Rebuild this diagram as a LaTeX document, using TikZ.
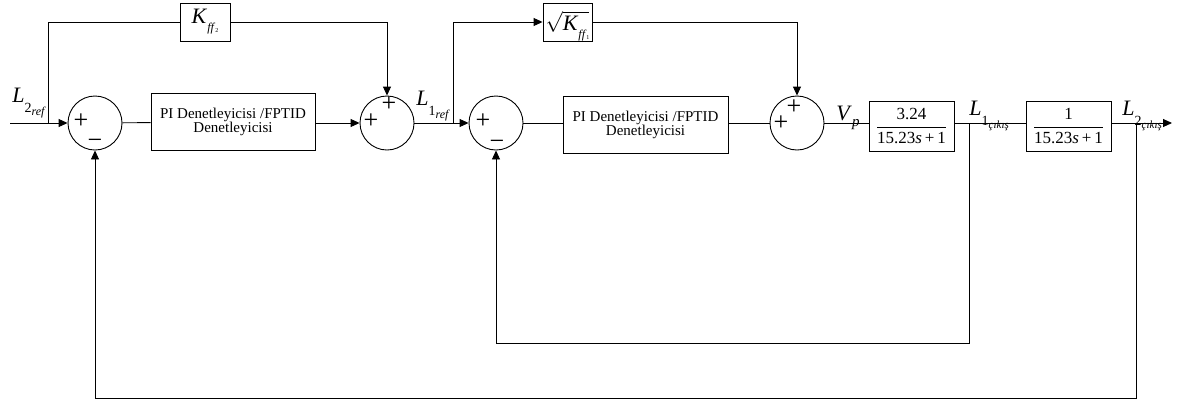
\documentclass[tikz,border=0pt]{standalone}
\usepackage{fontspec}
\setmainfont{Liberation Serif}
\usetikzlibrary{arrows.meta,calc}
\newcommand{\Lsym}[4]{{\fontsize{22}{22}\selectfont\textit{L}}\raisebox{-10pt}{\fontsize{14}{14}\selectfont #1}\raisebox{#3}{\fontsize{#4}{#4}\selectfont\textit{#2}}}
\newcommand{\Kbig}{{\fontsize{22}{22}\selectfont\textit{K}}}
\begin{document}
\begin{tikzpicture}[x=1pt,y=-1pt,
  line width=0.9pt,
  sig/.style={-{Triangle[length=9pt,width=8pt]}},
  blk/.style={draw,rectangle,inner sep=0pt,align=center},
  sumnode/.style={draw,circle,minimum size=54pt,inner sep=0pt},
  sgn/.style={inner sep=0pt,anchor=base,font=\fontsize{26}{26}\selectfont},
  lbl/.style={inner sep=0pt,anchor=base west},
  pitext/.style={font=\fontsize{15}{14}\selectfont},
  frac/.style={font=\fontsize{17}{17}\selectfont}]
\useasboundingbox (0,0) rectangle (1182,405);

% summing junctions
\node[sumnode] (s1) at (95,123) {};
\node[sumnode] (s2) at (387,123) {};
\node[sumnode] (s3) at (496,123) {};
\node[sumnode] (s4) at (797,123) {};

% signs
\node[sgn] (s1p) at (81,128.5) {+};
\node[sgn] (s1m) at (95,148.5) {−};
\node[sgn] (s2p) at (371,128.5) {+};
\node[sgn] (s2t) at (389,111) {+};
\node[sgn] (s3p) at (483,128.5) {+};
\node[sgn] (s3m) at (497,149.5) {−};
\node[sgn] (s4p) at (781,130) {+};
\node[sgn] (s4t) at (794,114) {+};

% blocks
\node[blk,pitext,minimum width=164pt,minimum height=57pt] (pi1) at (233,122) {PI Denetleyicisi /FPTID\\Denetleyicisi};
\node[blk,pitext,minimum width=165pt,minimum height=57pt] (pi2) at (645.5,124.5) {PI Denetleyicisi /FPTID\\Denetleyicisi};
\node[blk,minimum width=50pt,minimum height=38pt] (kff2) at (205,22) {\Kbig\raisebox{-8pt}{\fontsize{12}{12}\selectfont\textit{ff}}\raisebox{-9pt}{\fontsize{6}{6}\selectfont 2}};
\node[blk,minimum width=49pt,minimum height=38pt,inner sep=2pt,font=\fontsize{20}{20}\selectfont] (kff1) at (567.5,22) {$\sqrt{\hbox{\Kbig\smash{\raisebox{-8pt}{\fontsize{12}{12}\selectfont\textit{ff}}\raisebox{-9pt}{\fontsize{6}{6}\selectfont 1}}}}$};
\node[blk,frac,minimum width=85pt,minimum height=50pt] (g1) at (911.5,126) {$\displaystyle\frac{\hbox{\fontsize{17}{17}\selectfont 3.24}}{\hbox{\fontsize{17}{17}\selectfont 15.23\textit{s}\,+\,1}}$};
\node[blk,frac,minimum width=85pt,minimum height=50pt] (g2) at (1068.5,126) {$\displaystyle\frac{\hbox{\fontsize{17}{17}\selectfont 1}}{\hbox{\fontsize{17}{17}\selectfont 15.23\textit{s}\,+\,1}}$};

% labels
\node[lbl] (l2ref) at (12,102) {\Lsym{2}{ref}{-13pt}{12}};
\node[lbl] (l1ref) at (416,105) {\Lsym{1}{ref}{-13pt}{12}};
\node[lbl] (vp) at (836,120) {{\fontsize{22}{22}\selectfont\textit{V}}\raisebox{-6pt}{\fontsize{15}{15}\selectfont\textit{p}}};
\node[lbl] (l1out) at (969,115) {\Lsym{1}{çıkış}{-13pt}{11}};
\node[lbl] (l2out) at (1122,115) {\Lsym{2}{çıkış}{-13pt}{11}};

% coordinates
\coordinate (in) at (10,123);
\coordinate (b1) at (48,123);
\coordinate (b1t) at (48,22);
\coordinate (b2) at (453,123);
\coordinate (b2t) at (453,22);
\coordinate (b3) at (969,123);
\coordinate (b3d) at (969,343);
\coordinate (b4) at (1136,123);
\coordinate (b4d) at (1136,398);
\coordinate (out) at (1172,123);

% connectors
\draw[sig] (in) -- (s1);
\draw (b1) -- (b1t) -- (kff2);
\draw[sig] (kff2) -| (s2);
\draw (s1) -- (pi1);
\draw[sig] (pi1.east |- s2) -- (s2);
\draw[sig] (s2) -- (s3);
\draw[sig] (b2) -- (b2t) -- (kff1);
\draw[sig] (kff1) -| (s4);
\draw (s3) -- (pi2.west |- s3);
\draw (pi2.east |- s4) -- (s4);
\draw (s4) -- (g1.west |- s4);
\draw (g1.east |- s4) -- (g2.west |- s4);
\draw[sig] (g2.east |- s4) -- (out);
\draw[sig] (b3) -- (b3d) -| (s3);
\draw[sig] (b4) -- (b4d) -| (s1);
\end{tikzpicture}
\end{document}
